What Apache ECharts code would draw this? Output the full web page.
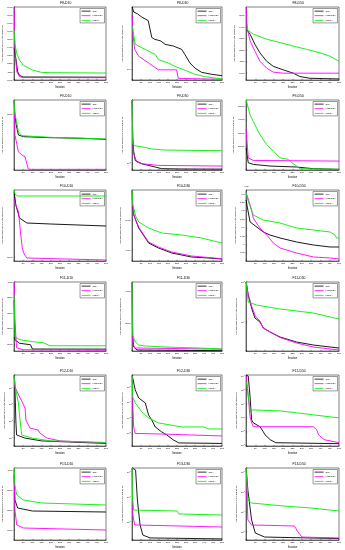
<!DOCTYPE html>
<html><head><meta charset="utf-8">
<script src="https://cdn.jsdelivr.net/npm/echarts@6/dist/echarts.min.js"></script>
<style>html,body{margin:0;padding:0;background:#fff}#c{width:345px;height:550px}</style>
</head><body><div id="c"></div>
<script>
const seriesNames = ['CSA', 'HSRWSA', 'MEGA'];
const xTicks = [50, 100, 150, 200, 250, 300, 350, 400, 450, 500];

// F8
const f8d10_csa = [[1,1389],[5,1368],[10,1266],[20,1102],[30,1057],[50,1037],[500,1035]];
const f8d10_hs = [[1,1900],[3,1532],[8,1286],[15,1102],[30,1041],[50,1030],[500,1028]];
const f8d10_mega = [[1,1614],[5,1450],[15,1327],[30,1245],[50,1184],[100,1123],[150,1094],[200,1090],[500,1086]];
const f8d30_csa = [[1,84],[10,70.8],[30,66.8],[55,59.6],[90,53.1],[110,29.9],[125,28.2],[160,26.6],[184,23.7],[230,22.4],[276,20.0],[294,16.8],[322,12.6],[350,10.6],[386,9.2],[441,8.6],[500,8.2]];
const f8d30_hs = [[1,63.1],[5,33.5],[15,20.0],[37,15.8],[92,12.6],[147,10],[248,10],[257,7.5],[500,7.24]];
const f8d30_mega = [[1,44.7],[18,23.7],[55,21.1],[129,16.8],[147,14.1],[202,12.6],[239,11.2],[303,9.66],[350,8.6],[404,7.94],[500,7.33]];
const f8d50_csa = [[1,1382],[22,1338],[48,1250],[75,1176],[111,1103],[147,1059],[200,1029],[254,1000],[290,971],[344,956],[500,950]];
const f8d50_hs = [[1,1573],[7,1382],[22,1279],[48,1191],[75,1103],[111,1044],[147,1009],[200,1000],[500,1000]];
const f8d50_mega = [[1,1382],[39,1338],[111,1294],[183,1265],[254,1235],[326,1206],[398,1176],[452,1147],[500,1103]];
// F9
const f9d10_csa = [[1,6300],[5,4950],[12,4050],[24,3150],[51,3000],[196,2910],[377,2850],[500,2760]];
const f9d10_hs = [[1,6300],[5,3150],[24,1650],[42,1350],[60,1200],[69,600],[78,90],[96,60],[500,60]];
const f9d10_mega = [[1,6300],[3,5250],[14,4350],[24,3450],[42,3090],[196,2940],[377,2850],[500,2790]];
const f9d30_csa = [[1,603],[4,209],[9,144.5],[18,109.6],[55,100],[92,95.5],[129,91.2],[165,87.1],[276,86.3],[500,86]];
const f9d30_hs = [[1,603],[4,209],[9,131.8],[28,104.7],[55,100],[147,95.5],[500,93.8]];
const f9d30_mega = [[1,603],[2,251],[4,173.8],[18,166],[74,158.5],[110,151.4],[184,147.2],[500,144.5]];
const f9d50_csa = [[1,18750],[12,7500],[39,6250],[129,5000],[272,4250],[362,3000],[500,2500]];
const f9d50_hs = [[1,32500],[12,11250],[39,9250],[500,8750]];
const f9d50_mega = [[1,55000],[22,43750],[39,38750],[75,28750],[111,21250],[147,16250],[183,11250],[228,10000],[246,7500],[272,5000],[290,3000],[500,2500]];
// F10
const f10d10_csa = [[1,4600],[10,4080],[30,3560],[70,3360],[200,3320],[500,3240]];
const f10d10_hs = [[1,4280],[10,4080],[25,3800],[35,3000],[45,2360],[55,2120],[70,1960],[500,1880]];
const f10d10_mega = [[1,4680],[5,4520],[20,4440],[500,4440]];
const f10d30_csa = [[1,8000],[3,7000],[10,6333],[37,5467],[74,4800],[92,4467],[147,4133],[221,3800],[331,3533],[423,3467],[500,3400]];
const f10d30_hs = [[1,8000],[3,7000],[10,6333],[37,5533],[92,4533],[147,4200],[221,3867],[331,3600],[500,3420]];
const f10d30_mega = [[1,8000],[5,7000],[20,6267],[37,5867],[92,5467],[165,5133],[276,5000],[386,4800],[500,4467]];
const f10d50_csa = [[1,12643],[5,12345],[22,11334],[93,10739],[129,10560],[183,10382],[272,10144],[362,9966],[452,9847],[500,9847]];
const f10d50_hs = [[1,13060],[10,12762],[20,12643],[30,12048],[39,11572],[75,10977],[111,10560],[147,10085],[183,9787],[272,9490],[362,9252],[452,9192],[500,9133]];
const f10d50_mega = [[1,13060],[10,12643],[25,12167],[39,11750],[93,11453],[183,11275],[272,10977],[362,10858],[452,10739],[478,10560],[487,10382],[500,10382]];
// F11
const f11d10_csa = [[1,3426],[5,2150],[30,2038],[90,1990],[100,1853],[500,1850]];
const f11d10_hs = [[1,4000],[5,2788],[14,1895],[50,1830],[500,1815]];
const f11d10_mega = [[1,3585],[5,2245],[33,2150],[105,2086],[160,2054],[196,1958],[500,1958]];
const f11d30_csa = [[1,4562],[4,1188],[9,500],[28,313],[500,269]];
const f11d30_hs = [[1,4562],[2,1563],[4,750],[15,438],[500,363]];
const f11d30_mega = [[1,4562],[2,2188],[4,1250],[18,813],[37,625],[74,563],[184,500],[368,438],[500,375]];
const f11d50_csa = [[1,100000],[12,47315],[30,22387],[48,12589],[75,10000],[93,7079],[129,5623],[183,4217],[272,3162],[362,2661],[452,2371],[500,2239]];
const f11d50_hs = [[1,100000],[10,53088],[30,25119],[50,14125],[75,10593],[93,7079],[183,4097],[272,2985],[362,2371],[452,2113],[500,1995]];
const f11d50_mega = [[1,100000],[12,31623],[57,26607],[183,21135],[362,16788],[452,13335],[500,11885]];
// F12
const f12d10_csa = [[1,56000],[5,11500],[10,120],[14,15.5],[60,10],[150,6.8],[500,4.8]];
const f12d10_hs = [[1,56000],[3,39800],[5,11500],[36,2190],[42,1660],[60,631],[65,120],[87,39.8],[132,30.2],[141,20],[180,10],[250,6.8],[500,5.1]];
const f12d10_mega = [[1,56000],[5,15100],[24,1260],[33,120],[42,15.5],[100,10],[200,6.8],[500,5.5]];
const f12d30_csa = [[1,550000],[18,64600],[37,19500],[74,9300],[92,1550],[110,740],[129,263],[165,126],[193,80],[230,38],[260,24.5],[500,22.6]];
const f12d30_hs = [[1,550000],[4,9300],[9,263],[18,100],[150,93],[500,69]];
const f12d30_mega = [[1,510000],[4,22400],[18,9300],[55,2450],[92,1000],[147,478],[276,263],[400,263],[423,195],[500,195]];
const f12d50_csa = [[1,1150000],[12,1000000],[22,31600],[30,720],[39,440],[75,230],[93,100],[102,61],[130,27],[160,16.4],[500,13.9]];
const f12d50_hs = [[1,1150000],[12,31600],[22,1170],[30,440],[39,230],[362,230],[380,139],[390,61],[420,27],[500,16.4]];
const f12d50_mega = [[1,372000],[7,163000],[22,3700],[183,3160],[272,2280],[362,1630],[452,1170],[500,1000]];
// F13
const f13d10_csa = [[1,3750],[5,2500],[20,2100],[100,1950],[500,1900]];
const f13d10_hs = [[1,4000],[5,2000],[15,1250],[50,1100],[500,1000]];
const f13d10_mega = [[1,4100],[5,3250],[15,2750],[50,2500],[150,2350],[500,2250]];
const f13d30_csa = [[1,1.45e8],[20,1.2e8],[30,7.6e6],[45,7.6e5],[60,3.0e5],[100,2.3e5],[500,2.1e5]];
const f13d30_hs = [[1,1.45e8],[5,1.9e6],[15,7.6e5],[500,6.3e5]];
const f13d30_mega = [[1,1.45e8],[3,7.6e6],[10,3.0e6],[250,2.75e6],[260,2.09e6],[500,1.9e6]];
const f13d50_csa = [[1,1.58e8],[10,1.26e7],[30,4.0e5],[50,8.9e4],[100,5.6e4],[500,4.7e4]];
const f13d50_hs = [[1,1.58e8],[10,4.0e5],[30,2.24e5],[260,2.0e5],[280,1.0e5],[300,5.6e4],[500,5.0e4]];
const f13d50_mega = [[1,1.58e8],[10,4.0e6],[30,2.8e6],[200,2.0e6],[350,1.58e6],[500,1.12e6]];

const panels = [
  {title:'F8-D10', d:[f8d10_csa,f8d10_hs,f8d10_mega], log:false, min:1000, max:1900, labels:[1000,1100,1200,1300,1400,1500,1600,1700,1800,1900]},
  {title:'F8-D30', d:[f8d30_csa,f8d30_hs,f8d30_mega], log:true, min:7.08, max:84.1},
  {title:'F8-D50', d:[f8d50_csa,f8d50_hs,f8d50_mega], log:false, min:941, max:1573, labels:[1000,1100,1200,1300,1400,1500]},
  {title:'F9-D10', d:[f9d10_csa,f9d10_hs,f9d10_mega], log:false, min:0, max:6300, labels:[5000]},
  {title:'F9-D30', d:[f9d30_csa,f9d30_hs,f9d30_mega], log:true, min:83.9, max:603},
  {title:'F9-D50', d:[f9d50_csa,f9d50_hs,f9d50_mega], log:false, min:2000, max:55000, labels:[20000,30000,40000,50000]},
  {title:'F10-D10', d:[f10d10_csa,f10d10_hs,f10d10_mega], log:false, min:1840, max:4680, labels:[2000]},
  {title:'F10-D30', d:[f10d30_csa,f10d30_hs,f10d30_mega], log:false, min:3267, max:8000, labels:[4000,6000]},
  {title:'F10-D50', d:[f10d50_csa,f10d50_hs,f10d50_mega], log:false, min:9013, max:13238, labels:[9500,10000,10500,11000,11500,12000,12500,13000], exp:4},
  {title:'F11-D10', d:[f11d10_csa,f11d10_hs,f11d10_mega], log:false, min:1790, max:4000, labels:[2000,2500,3000,3500,4000]},
  {title:'F11-D30', d:[f11d30_csa,f11d30_hs,f11d30_mega], log:false, min:250, max:4562, labels:[2000,4000]},
  {title:'F11-D50', d:[f11d50_csa,f11d50_hs,f11d50_mega], log:true, min:1884, max:100000},
  {title:'F12-D10', d:[f12d10_csa,f12d10_hs,f12d10_mega], log:true, min:3.37, max:60000},
  {title:'F12-D30', d:[f12d30_csa,f12d30_hs,f12d30_mega], log:true, min:15.5, max:590000},
  {title:'F12-D50', d:[f12d50_csa,f12d50_hs,f12d50_mega], log:true, min:9.5, max:1180000},
  {title:'F13-D10', d:[f13d10_csa,f13d10_hs,f13d10_mega], log:false, min:500, max:4100, labels:[1000,2000,3000,4000]},
  {title:'F13-D30', d:[f13d30_csa,f13d30_hs,f13d30_mega], log:true, min:1.9e5, max:1.45e8},
  {title:'F13-D50', d:[f13d50_csa,f13d50_hs,f13d50_mega], log:true, min:3.98e4, max:1.58e8}
];

const colL = [14, 132, 246], colR = [106, 222, 339];
const rowT = [7, 100, 190, 282, 375, 468], rowB = [80, 170, 261, 351, 446, 540];
const nameGaps = [7, 8, 8];
const colors = ['#000000', '#ff00ff', '#00ee00'];
const FONT = 'Liberation Sans, Arial, sans-serif';

const option = {animation:false, backgroundColor:'#fff', grid:[], xAxis:[], yAxis:[], series:[], legend:[], graphic:[]};
panels.forEach((p, i) => {
  const r = Math.floor(i / 3), c = i % 3;
  const L = colL[c], R = colR[c], T = rowT[r], B = rowB[r];
  option.grid.push({left:L, top:T, width:R-L, height:B-T, show:true, borderColor:'#000', borderWidth:0.5, backgroundColor:'#fff'});
  option.xAxis.push({gridIndex:i, type:'value', min:0, max:500, interval:50,
    name:'Iteration', nameLocation:'middle', nameGap:5.5,
    nameTextStyle:{fontSize:2.6, color:'#000', fontFamily:FONT},
    axisLine:{lineStyle:{color:'#000', width:0.5}},
    axisTick:{inside:true, length:1.2, lineStyle:{color:'#000', width:0.4}},
    axisLabel:{fontSize:2.4, margin:1.4, color:'#000', fontFamily:FONT, formatter:v => (xTicks.indexOf(v) >= 0 ? String(v) : '')},
    splitLine:{show:false}});
  const ya = {gridIndex:i, type:p.log ? 'log' : 'value', min:p.min, max:p.max,
    name:'Average Best score obtained so far', nameLocation:'middle', nameGap:nameGaps[c],
    nameTextStyle:{fontSize:2.4, color:'#000', fontFamily:FONT},
    axisLine:{lineStyle:{color:'#000', width:0.5}},
    axisTick:{inside:true, length:1.2, lineStyle:{color:'#000', width:0.4}},
    splitLine:{show:false}};
  if (p.log) {
    ya.logBase = 10;
    ya.axisLabel = {fontSize:2.4, margin:1.4, color:'#000', fontFamily:FONT,
      formatter: v => { const e = Math.log10(v); const n = Math.round(e); return Math.abs(e - n) < 1e-6 ? '{b|10}{e|' + n + '}' : ''; },
      rich:{b:{fontSize:2.4, fontFamily:FONT, color:'#000'}, e:{fontSize:1.7, fontFamily:FONT, color:'#000', verticalAlign:'top', padding:[0,0,1.5,0]}}};
  } else {
    ya.axisLabel = {fontSize:2.4, margin:1.4, color:'#000', fontFamily:FONT, customValues:p.labels,
      formatter: v => p.exp ? String(+(v / Math.pow(10, p.exp)).toFixed(2)) : String(v)};
    ya.axisTick.customValues = p.labels;
  }
  option.yAxis.push(ya);
  p.d.forEach((arr, k) => {
    option.series.push({type:'line', name:seriesNames[k], xAxisIndex:i, yAxisIndex:i, data:arr,
      symbol:'none', showSymbol:false, lineStyle:{color:colors[k], width:0.9}, itemStyle:{color:colors[k]}, z:2+k});
  });
  option.legend.push({data:seriesNames.map(n => ({name:n, icon:'rect'})), orient:'vertical', right:345-R+1.5, top:T+1.5,
    itemWidth:9, itemHeight:0.8, itemGap:2.6, padding:[1.6,1.5,1.6,1.5],
    borderColor:'#000', borderWidth:0.4, backgroundColor:'#fff',
    textStyle:{fontSize:2.4, color:'#000', fontFamily:FONT, padding:[0,0,0,-3]}, selectedMode:false});
  option.graphic.push({type:'text', left:(L+R)/2, top:T-5, style:{text:p.title, fontSize:3.4, fill:'#000', font:'3.4px ' + FONT, textAlign:'center'}});
  if (p.exp) {
    option.graphic.push({type:'text', left:L-2, top:T-4.5, style:{text:'\u00d710{e|' + p.exp + '}', fontSize:2.4, fill:'#000', fontFamily:FONT,
      rich:{e:{fontSize:1.7, verticalAlign:'top', fill:'#000'}}}});
  }
});

const chart = echarts.init(document.getElementById('c'), null, {renderer:'canvas'});
chart.setOption(option);
</script>
</body></html>
